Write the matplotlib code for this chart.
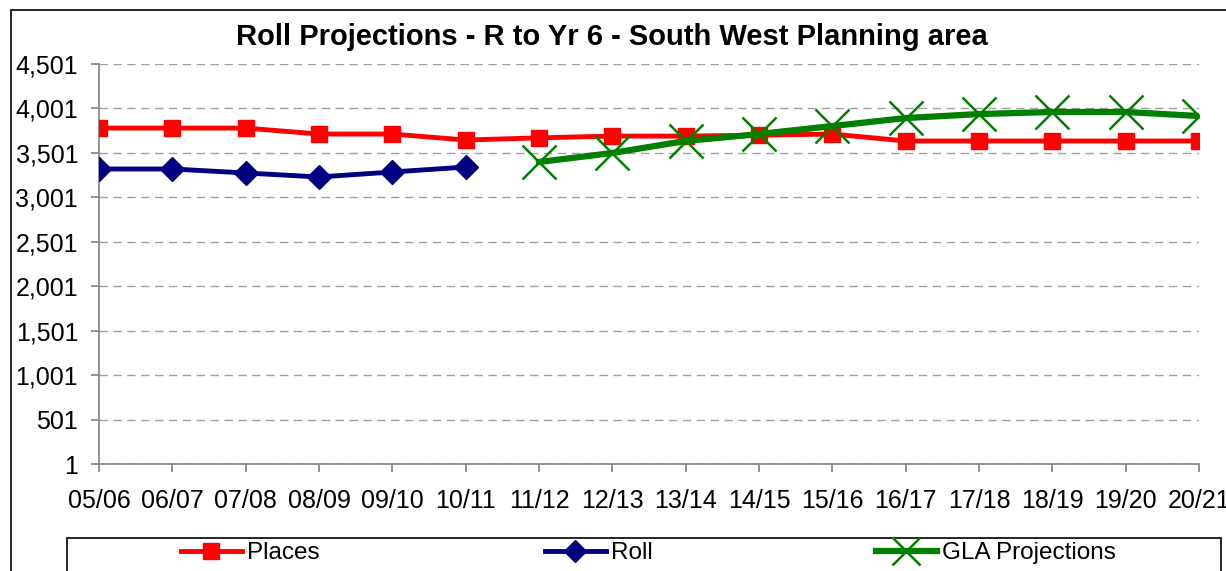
import numpy as np
import matplotlib.pyplot as plt
from matplotlib.patches import Rectangle
from matplotlib.lines import Line2D

plt.rcParams['font.family'] = ['Liberation Sans', 'DejaVu Sans']

years = ['05/06', '06/07', '07/08', '08/09', '09/10', '10/11', '11/12', '12/13',
         '13/14', '14/15', '15/16', '16/17', '17/18', '18/19', '19/20', '20/21']
places = [3780, 3780, 3780, 3713, 3713, 3646, 3670, 3690,
          3690, 3700, 3713, 3635, 3635, 3635, 3635, 3635]
roll = [3320, 3320, 3275, 3230, 3286, 3342]
gla = [3398, 3500, 3635, 3713, 3803, 3893, 3938, 3961, 3961, 3916]
yticks = [1, 501, 1001, 1501, 2001, 2501, 3001, 3501, 4001, 4501]

W, H = 1226, 571
fig = plt.figure(figsize=(W / 100, H / 100), dpi=100)
ax = fig.add_axes([99 / W, 1 - 464 / H, 1100 / W, 400 / H])

x = np.arange(len(years))
ax.plot(x, places, color='#ff0000', lw=3.5, marker='s', ms=11, mec='#ff0000', zorder=3)
ax.plot(x[:len(roll)], roll, color='#000080', lw=3.5, marker='D', ms=12, mec='#000080', zorder=3)
ax.plot(x[len(years) - len(gla):], gla, color='#008000', lw=4.5, marker='x', ms=24, mew=1.8, zorder=4)

ax.set_xlim(0, len(years) - 1)
ax.set_ylim(1, 4501)
ax.set_yticks(yticks)
ax.set_yticklabels([f'{v:,}' for v in yticks])
ax.set_xticks(x)
ax.set_xticklabels(years)
ax.tick_params(axis='both', labelsize=18, color='#808080', length=6, width=1.2)
ax.tick_params(axis='x', pad=12)
ax.tick_params(axis='y', pad=9)
ax.yaxis.grid(True, ls=(0, (6, 4)), color='#a0a0a0', lw=1)
for s in ['top', 'right']:
    ax.spines[s].set_visible(False)
for s in ['left', 'bottom']:
    ax.spines[s].set_color('#808080')
    ax.spines[s].set_linewidth(1.2)
ax.set_axisbelow(True)
for lbl in ax.get_xticklabels():
    lbl.set_clip_on(False)

fig.text(612 / W, 1 - 37 / H, 'Roll Projections - R to Yr 6 - South West Planning area',
         ha='center', va='center', fontsize=21, fontweight='bold')

# chart border and legend box
fig.patches.append(Rectangle((11 / W, -0.1), 1.2, 1 - 10 / H + 0.1, transform=fig.transFigure,
                             fill=False, ec='black', lw=1.2))
fig.patches.append(Rectangle((67 / W, -0.1), 1154 / W, 1 - 538 / H + 0.1, transform=fig.transFigure,
                             fill=False, ec='black', lw=1.2))

entries = [
    ('Places', dict(color='#ff0000', lw=3.5, marker='s', ms=11), 181),
    ('Roll', dict(color='#000080', lw=3.5, marker='D', ms=11), 545),
    ('GLA Projections', dict(color='#008000', lw=4.5, marker='x', ms=20, mew=1.8), 876),
]
for label, style, px in entries:
    h = Line2D([], [], **style)
    fig.legend([h], [label], loc='center left', bbox_to_anchor=(px / W, 1 - 553 / H),
               frameon=False, fontsize=17.5, handlelength=2.5, handletextpad=0.2,
               borderpad=0, borderaxespad=0)

fig.savefig('out.png', dpi=100)
